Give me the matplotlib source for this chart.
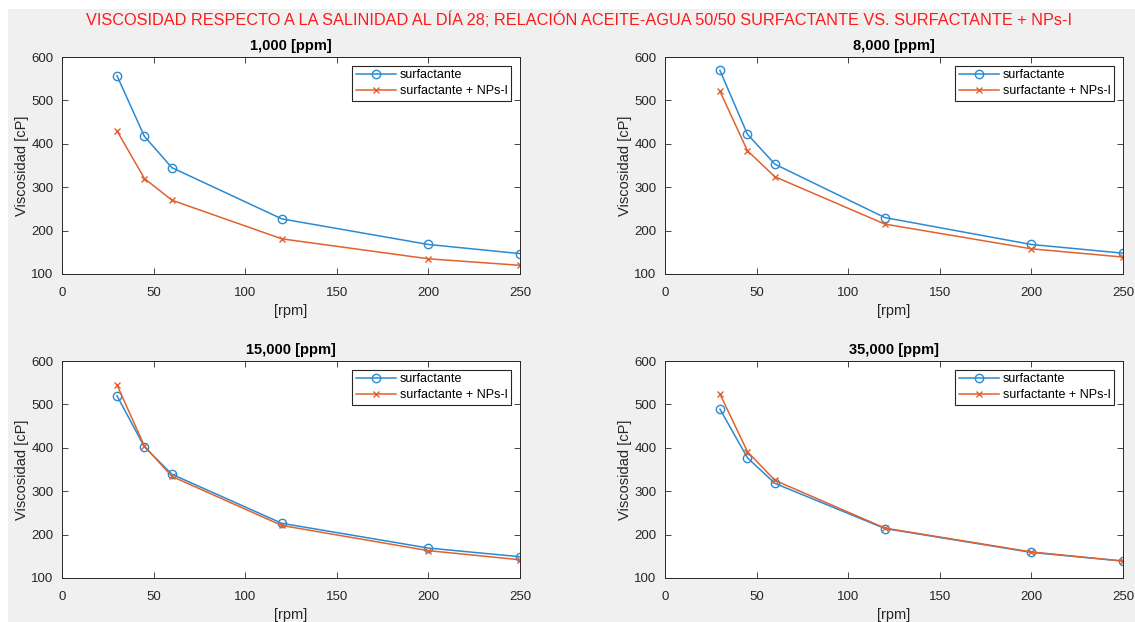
import numpy as np
import matplotlib.pyplot as plt
from matplotlib.patches import Rectangle

plt.rcParams['font.family'] = ['Liberation Sans', 'DejaVu Sans']

rpm = [30, 45, 60, 120, 200, 250]
titles = ['1,000 [ppm]', '8,000 [ppm]', '15,000 [ppm]', '35,000 [ppm]']

surf_1000 = [557, 417, 345, 227, 168, 147]
nps_1000 = [430, 320, 270, 181, 135, 120]
surf_8000 = [569, 422, 353, 230, 168, 148]
nps_8000 = [521, 384, 324, 215, 158, 139]
surf_15000 = [520, 402, 339, 226, 169, 149]
nps_15000 = [545, 404, 334, 221, 163, 142]
surf_35000 = [489, 377, 318, 214, 159, 139]
nps_35000 = [524, 391, 325, 215, 160, 139]

surf = [surf_1000, surf_8000, surf_15000, surf_35000]
nps = [nps_1000, nps_8000, nps_15000, nps_35000]

W, H = 1135, 622
fig = plt.figure(figsize=(W / 100, H / 100), dpi=100, facecolor='white')
# grey window area, white strip on the left and top
fig.patches.append(Rectangle((8 / W, 0), 1, 1 - 9 / H, transform=fig.transFigure,
                             facecolor='#f0f0f0', edgecolor='none', zorder=-10))

# axes boxes in pixels: left, right, top, bottom
boxes = [(62, 520, 57, 274), (665, 1123, 57, 274),
         (62, 520, 361, 578), (665, 1123, 361, 578)]

blue = '#2a8ad2'
orange = '#e0622f'
axc = '#262626'

for i, (l, r, t, b) in enumerate(boxes):
    ax = fig.add_axes([l / W, 1 - b / H, (r - l) / W, (b - t) / H])
    ax.plot(rpm, surf[i], color=blue, marker='o', markersize=6, markerfacecolor='none',
            markeredgewidth=1.0, lw=1.1, label='surfactante')
    ax.plot(rpm, nps[i], color=orange, marker='x', markersize=4.5, markeredgewidth=1.0,
            lw=1.1, label='surfactante + NPs-I')
    ax.set_xlim(0, 250)
    ax.set_ylim(100, 600)
    ax.set_xticks(np.arange(0, 251, 50))
    ax.set_yticks(np.arange(100, 601, 100))
    ax.tick_params(direction='in', top=True, right=True, labelsize=9.5, colors=axc,
                   length=4, width=0.6)
    ax.tick_params(axis='x', pad=9)
    ax.tick_params(axis='y', pad=6)
    for s in ax.spines.values():
        s.set_color(axc)
        s.set_linewidth(0.7)
    ax.set_title(titles[i], fontsize=10.5, fontweight='bold', color='black', pad=5)
    ax.set_xlabel('[rpm]', fontsize=10.5, color=axc, labelpad=4)
    ax.set_ylabel('Viscosidad [cP]', fontsize=10.5, color=axc, labelpad=2)
    leg = ax.legend(loc='upper right', fontsize=9, fancybox=False, framealpha=1,
                    edgecolor=axc, borderaxespad=0.7, handlelength=3.2,
                    borderpad=0.3, labelspacing=0.3, handletextpad=0.3)
    leg.get_frame().set_linewidth(0.8)

fig.text(0.51, 1 - 20 / H,
         'VISCOSIDAD RESPECTO A LA SALINIDAD AL DÍA 28; RELACIÓN ACEITE-AGUA 50/50 SURFACTANTE VS. SURFACTANTE + NPs-I',
         color='#ff1a1a', fontsize=11.7, ha='center', va='center')

fig.savefig('out.png', dpi=100, facecolor=fig.get_facecolor())
